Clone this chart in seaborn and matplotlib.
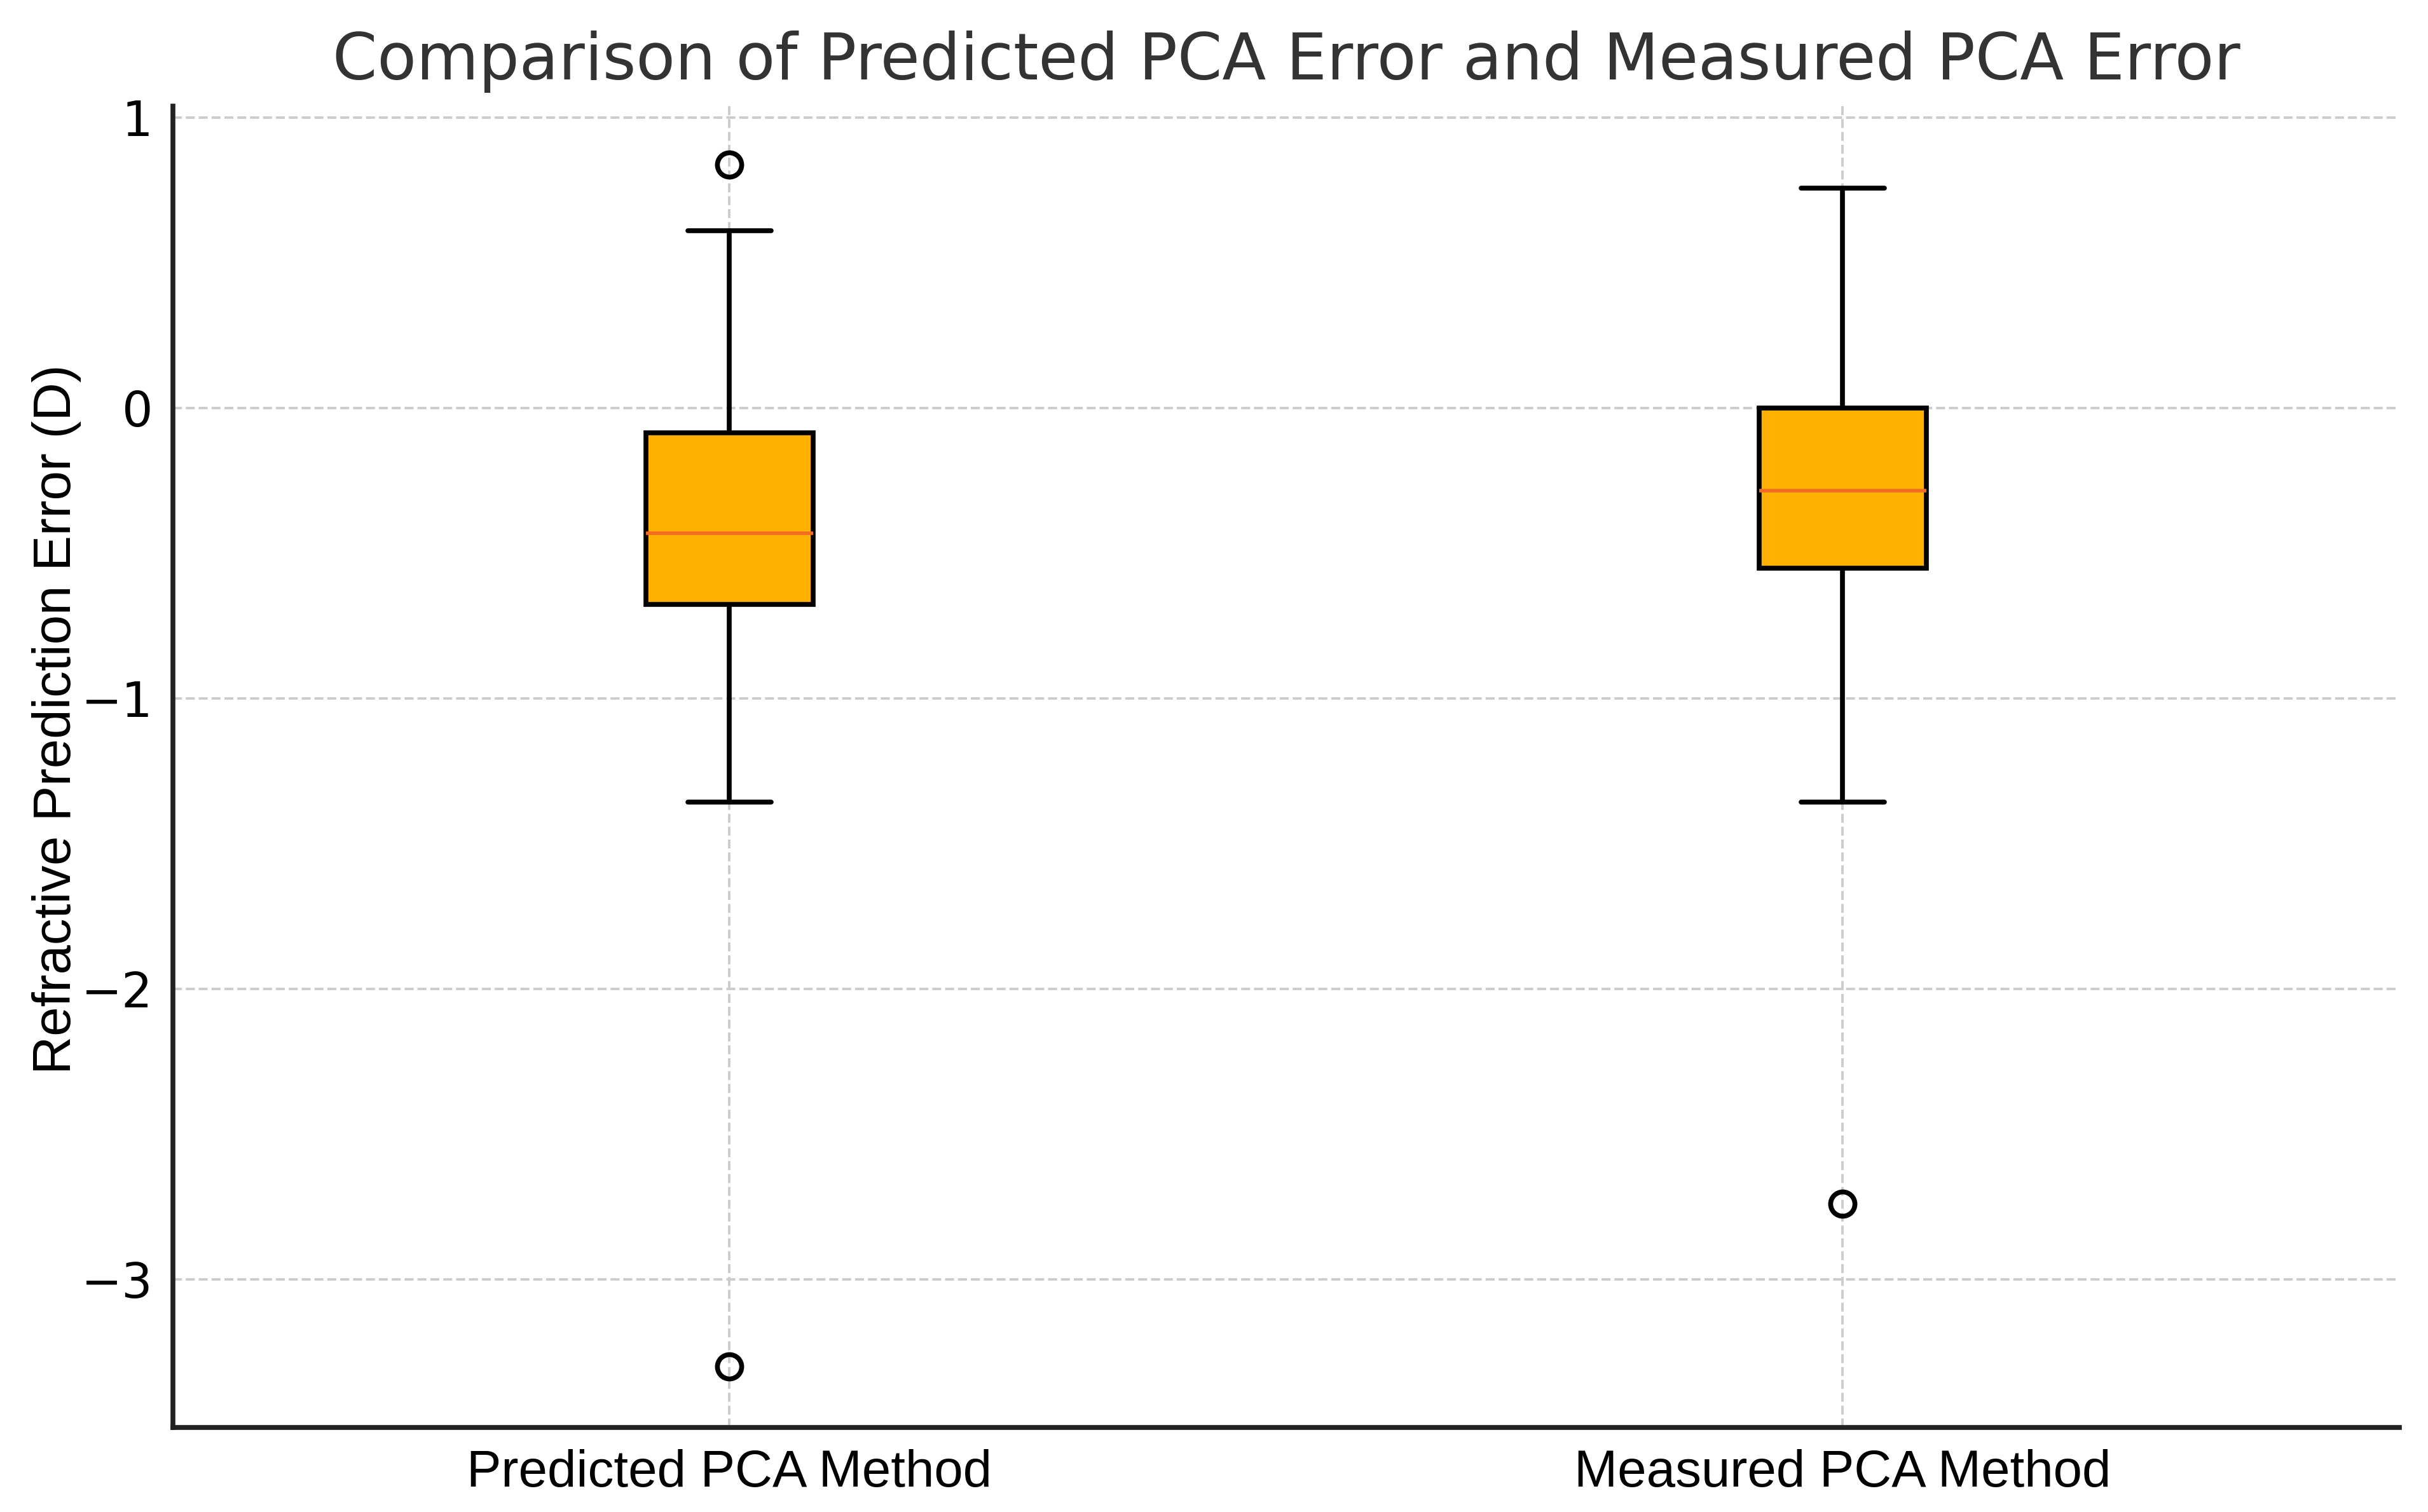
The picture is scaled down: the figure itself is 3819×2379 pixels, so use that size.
import pandas as pd
import numpy as np
import matplotlib
matplotlib.use('Agg')
import matplotlib.pyplot as plt
import seaborn as sns

# Values (quartiles, whiskers, outliers)
predicted_err = [-3.30, -1.357, -0.676, -0.55, -0.432, -0.25, -0.086, 0.611, 0.838]
measured_err = [-2.74, -1.357, -0.551, -0.42, -0.286, -0.15, 0.0, 0.40, 0.757]
methods = ['Predicted PCA Method', 'Measured PCA Method']

df = pd.DataFrame({
    'Method': [methods[0]] * len(predicted_err) + [methods[1]] * len(measured_err),
    'Error': predicted_err + measured_err,
})

sns.set_style('white')
plt.rcParams['font.family'] = ['DejaVu Sans']

fig = plt.figure(figsize=(15.276, 9.516), dpi=250)
ax = fig.add_axes([0.0712, 0.056, 0.917, 0.874])

sns.boxplot(data=df, x='Method', y='Error', order=methods, ax=ax, width=0.15,
            linewidth=2.2, whis=1.5,
            boxprops=dict(facecolor='#FFB000', edgecolor='black', linewidth=2.2),
            medianprops=dict(color='#F26B22', linewidth=1.6),
            whiskerprops=dict(color='black', linewidth=2.2),
            capprops=dict(color='black', linewidth=2.2),
            flierprops=dict(marker='o', markerfacecolor='none', markeredgecolor='black',
                            markersize=11, markeredgewidth=2.2))

ax.set_xlim(-0.5, 1.5)
ax.set_ylim(-3.51, 1.04)
ax.set_yticks([1, 0, -1, -2, -3])
ax.grid(True, linestyle='--', color='#cccccc', linewidth=1.1)
ax.set_axisbelow(True)
for s in ['top', 'right']:
    ax.spines[s].set_visible(False)
for s in ['left', 'bottom']:
    ax.spines[s].set_color('#222222')
    ax.spines[s].set_linewidth(2.2)
ax.tick_params(axis='both', direction='in', length=7, width=1.6, color='#222222',
               labelcolor='black')
ax.tick_params(axis='y', labelsize=22, pad=9)
ax.tick_params(axis='x', labelsize=23.5, pad=10)
for lab in ax.get_xticklabels():
    lab.set_fontfamily('Liberation Sans')

ax.set_xlabel('')
ax.set_ylabel('Refractive Prediction Error (D)', fontsize=24, family='Liberation Sans',
              color='black')
ax.yaxis.set_label_coords(-0.041, 0.536)
ax.set_title('Comparison of Predicted PCA Error and Measured PCA Error', fontsize=29,
             color='#333333', pad=12)

fig.savefig('out.png', dpi=250)
